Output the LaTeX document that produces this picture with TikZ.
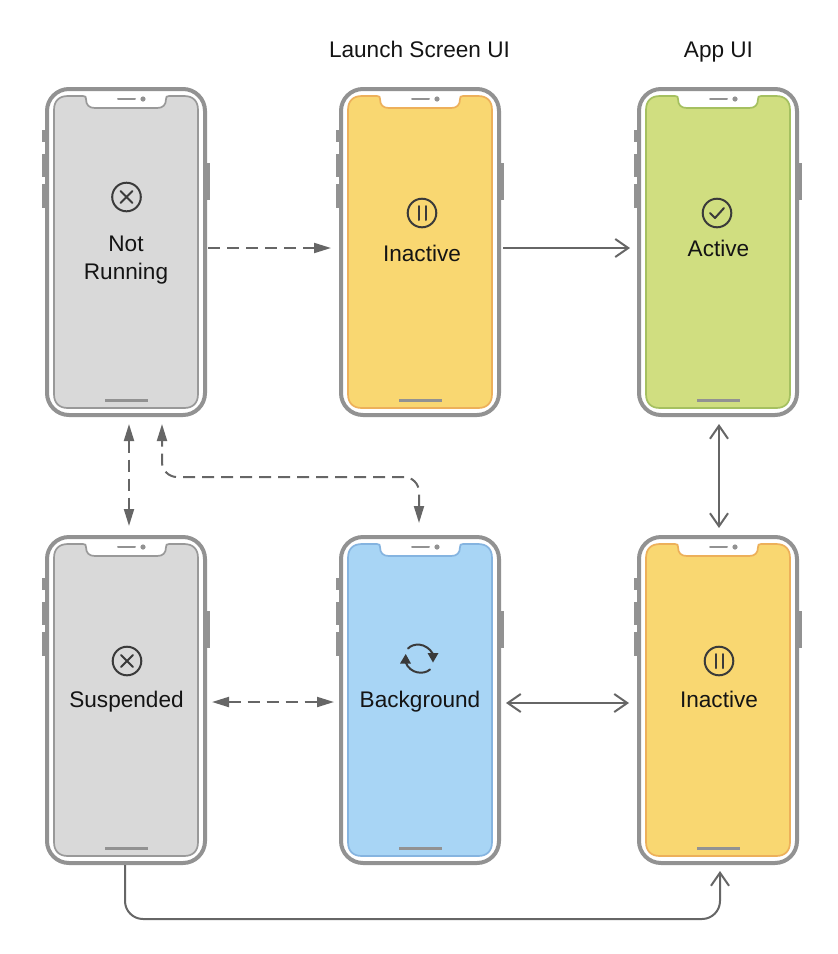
\documentclass[tikz,border=0pt]{standalone}
\usepackage{fontspec}
\setmainfont{Liberation Sans}
\usetikzlibrary{arrows.meta,calc}
\definecolor{framec}{HTML}{929292}
\definecolor{linec}{HTML}{666666}
\definecolor{iconc}{HTML}{3A3A3A}
\definecolor{greyf}{HTML}{D9D9D9}\definecolor{greys}{HTML}{999999}
\definecolor{yellowf}{HTML}{F9D771}\definecolor{yellows}{HTML}{EDB05A}
\definecolor{greenf}{HTML}{D0DE80}\definecolor{greens}{HTML}{A5C060}
\definecolor{bluef}{HTML}{A8D5F5}\definecolor{blues}{HTML}{85B4E0}
\tikzset{
  phoneframe/.style={draw=framec,line width=4pt,rounded corners=22pt,minimum width=158pt,minimum height=326pt,inner sep=0pt,fill=white},
  phonebtn/.style={fill=framec,draw=none},
  lbl/.style={font=\fontsize{22.6}{28}\selectfont,text=black!92,inner sep=0pt,align=center},
  onelbl/.style={lbl,text height=20pt,text depth=4pt},
  iconline/.style={draw=iconc,line width=2pt,line cap=round,line join=round},
  conn/.style={draw=linec,line width=2pt},
  dashconn/.style={conn,dash pattern=on 12pt off 7pt},
  solidhead/.style={-{Straight Barb[length=13pt,width=18pt,line width=2pt]}},
  bothhead/.style={{Straight Barb[length=13pt,width=18pt,line width=2pt]}-{Straight Barb[length=13pt,width=18pt,line width=2pt]}},
  dashhead/.style={-{Stealth[length=17pt,width=10pt,inset=0pt]}},
  dashboth/.style={{Stealth[length=17pt,width=10pt,inset=0pt]}-{Stealth[length=17pt,width=10pt,inset=0pt]}},
}
\newcommand{\phonedraw}[5]{% name, cx, cy, fill, stroke
  \begin{scope}[shift={(#2,#3)}]
    \fill[phonebtn] (-84,-122) rectangle (-81,-110);
    \fill[phonebtn] (-84,-98) rectangle (-81,-75);
    \fill[phonebtn] (-84,-68) rectangle (-81,-44);
    \fill[phonebtn] (81,-89) rectangle (84,-52);
    \node[phoneframe] (#1) at (0,0) {};
    \draw[fill=#4,draw=#5,line width=1.7pt]
      (-72,-142) .. controls (-72,-151) and (-67,-156) .. (-58,-156)
      -- (-43,-156) .. controls (-40.5,-156) and (-40,-155) .. (-40,-153)
      .. controls (-40,-147) and (-37,-144) .. (-31,-144)
      -- (31,-144) .. controls (37,-144) and (40,-147) .. (40,-153)
      .. controls (40,-155) and (40.5,-156) .. (43,-156)
      -- (58,-156) .. controls (67,-156) and (72,-151) .. (72,-142)
      -- (72,142) .. controls (72,151) and (67,156) .. (58,156)
      -- (-58,156) .. controls (-67,156) and (-72,151) .. (-72,142) -- cycle;
    \draw[framec,line width=2pt,line cap=round] (-8,-153) -- (9,-153);
    \fill[framec] (17,-153) circle (2.6);
    \draw[framec,line width=2.2pt] (-21,148.5) -- (22,148.5);
  \end{scope}
}
\newcommand{\iconx}[2]{\begin{scope}[shift={(#1,#2)}]\draw[iconline] (0,0) circle (14.3);\draw[iconline] (-6,-6) -- (6,6) (-6,6) -- (6,-6);\end{scope}}
\newcommand{\iconp}[2]{\begin{scope}[shift={(#1,#2)}]\draw[iconline] (0,0) circle (14.3);\draw[iconline] (-3.5,-7) -- (-3.5,7) (3.5,-7) -- (3.5,7);\end{scope}}
\newcommand{\iconc}[2]{\begin{scope}[shift={(#1,#2)}]\draw[iconline] (0,0) circle (14.3);\draw[iconline] (-7,0) -- (-2,5) -- (7,-5);\end{scope}}
\begin{document}
\begin{tikzpicture}[x=1pt,y=-1pt]
\useasboundingbox (0,0) rectangle (838,954);
\phonedraw{notrun}{126}{252}{greyf}{greys}
\phonedraw{launch}{420}{252}{yellowf}{yellows}
\phonedraw{active}{718}{252}{greenf}{greens}
\phonedraw{susp}{126}{700}{greyf}{greys}
\phonedraw{back}{420}{700}{bluef}{blues}
\phonedraw{inact}{718}{700}{yellowf}{yellows}

\node[onelbl] (tlaunch) at (419.5,49) {Launch Screen UI};
\node[onelbl] (tapp) at (718.5,49) {App UI};
\node[lbl] (lnot) at (126,260) {Not\\Running};
\node[onelbl] (lin1) at (422,253) {Inactive};
\node[onelbl] (lact) at (718.5,248) {Active};
\node[onelbl] (lsus) at (126.5,699) {Suspended};
\node[onelbl] (lbac) at (420,699) {Background};
\node[onelbl] (lin2) at (719,699) {Inactive};

\iconx{126.5}{197}
\iconp{422}{213}
\iconc{717}{213}
\iconx{127}{661}
\iconp{719}{661}
% background icon
\draw[iconline] (408,648.5) .. controls (413,643) and (426,642) .. (433,654);
\fill[iconc] (427.5,653) -- (438.5,653) -- (433,662.5) -- cycle;
\draw[iconline] (430,669.5) .. controls (424,675) and (410,674) .. (405.5,662);
\fill[iconc] (400,663.5) -- (411,663.5) -- (405.7,654) -- cycle;

\draw[dashconn,dashhead] ([yshift=4pt,xshift=1pt]notrun.east) -- ([yshift=4pt,xshift=-8pt]launch.west);
\draw[conn,solidhead] ([yshift=4pt,xshift=2pt]launch.east) -- ([yshift=4pt,xshift=-7pt]active.west);
\draw[dashconn,dashboth] ([xshift=3pt,yshift=-7pt]notrun.south) -- ([xshift=3pt,yshift=9pt]susp.north);
\draw[dashconn,dashboth,rounded corners=15pt] ([xshift=-1pt,yshift=12pt]back.north) -- ++(0,-46) -- ([xshift=36pt,yshift=-60pt]notrun.south) -- ([xshift=36pt,yshift=-7pt]notrun.south);
\draw[dashconn,dashboth] ([xshift=5pt,yshift=-2pt]susp.east) -- ([xshift=-5pt,yshift=-2pt]back.west);
\draw[conn,bothhead] ([xshift=5pt,yshift=-3pt]back.east) -- ([xshift=-8pt,yshift=-3pt]inact.west);
\draw[conn,bothhead] ([xshift=1pt,yshift=-7pt]active.south) -- ([xshift=1pt,yshift=7pt]inact.north);
\draw[conn,solidhead,rounded corners=18pt] ([xshift=-1pt]susp.south) -- ++(0,54) -| ([xshift=2pt,yshift=-6pt]inact.south);
\end{tikzpicture}
\end{document}
